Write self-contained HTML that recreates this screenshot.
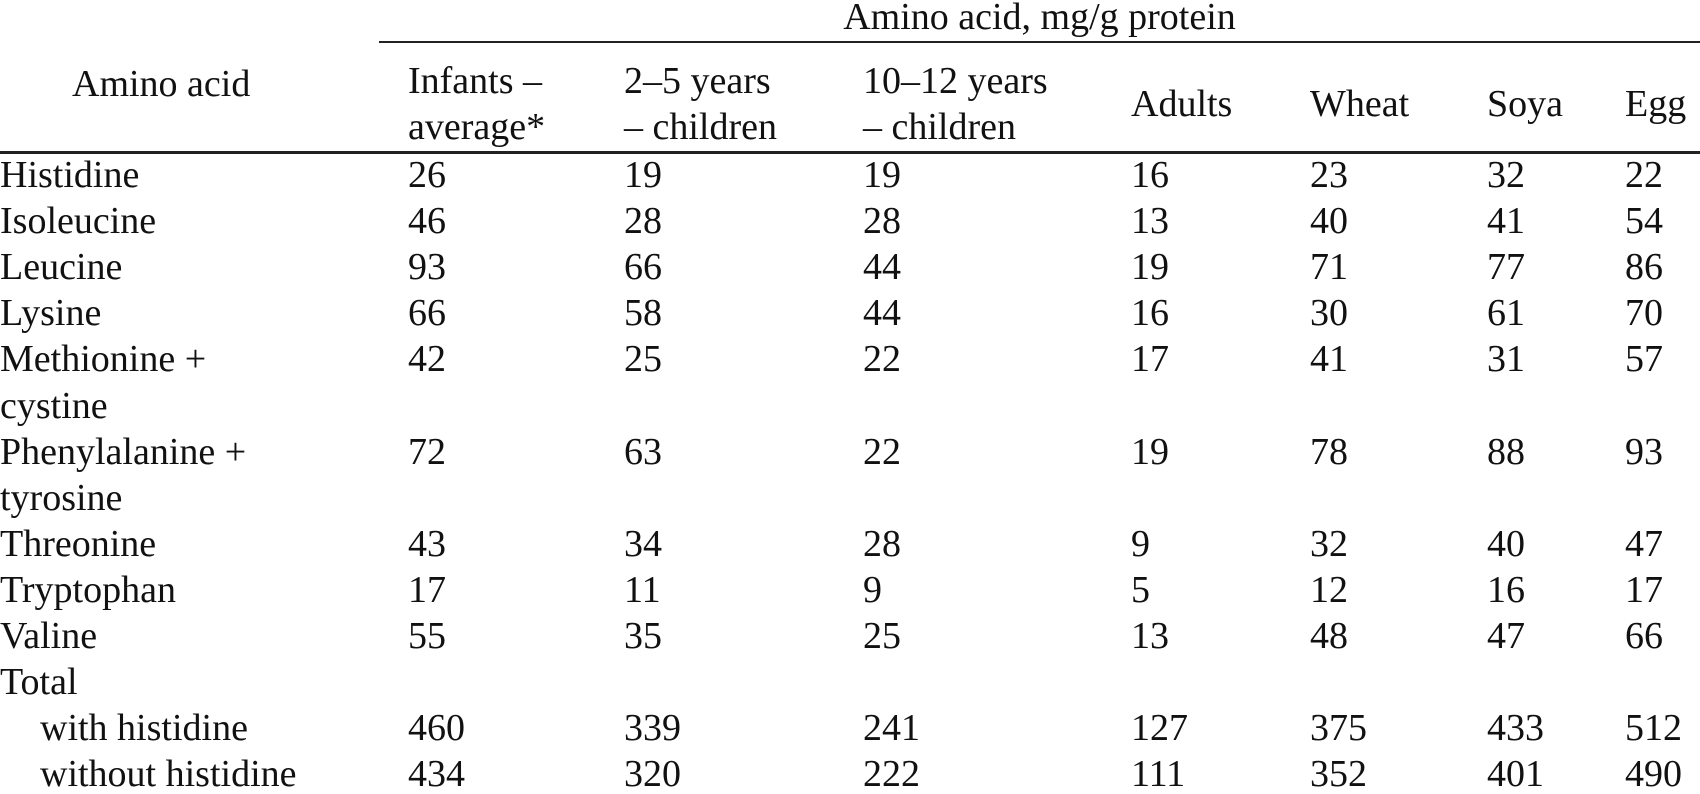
<!DOCTYPE html>
<html><head><meta charset="utf-8"><style>
html,body{margin:0;padding:0;background:#fff;}
#t{position:relative;width:1700px;height:794px;overflow:hidden;font-family:"Liberation Serif",serif;font-size:38px;color:#111;}
.c{position:absolute;white-space:nowrap;height:46px;line-height:46px;}
.r{position:absolute;background:#222;}
</style></head><body>
<div id="t">
<div class="c" style="left:379px;width:1321px;text-align:center;top:-6px;">Amino acid, mg/g protein</div>
<div class="r" style="left:379px;width:1321px;top:41px;height:2px;"></div>
<div class="c" style="left:72px;top:61px;">Amino acid</div>
<div class="r" style="left:0;width:1700px;top:151px;height:3px;"></div>
</div>
<script>
const columns=["Infants –|average*","2–5 years|– children","10–12 years|– children","Adults","Wheat","Soya","Egg"];
const rowLabels=["Histidine","Isoleucine","Leucine","Lysine","Methionine +|cystine","Phenylalanine +|tyrosine","Threonine","Tryptophan","Valine","Total","  with histidine","  without histidine"];
const infants=[26,46,93,66,42,72,43,17,55,null,460,434];
const kids25=[19,28,66,58,25,63,34,11,35,null,339,320];
const kids1012=[19,28,44,44,22,22,28,9,25,null,241,222];
const adults=[16,13,19,16,17,19,9,5,13,null,127,111];
const wheat=[23,40,71,30,41,78,32,12,48,null,375,352];
const soya=[32,41,77,61,31,88,40,16,47,null,433,401];
const egg=[22,54,86,70,57,93,47,17,66,null,512,490];
const series=[infants,kids25,kids1012,adults,wheat,soya,egg];
const colX=[408,624,863,1131,1310,1487,1625];
const t=document.getElementById('t');
function cell(txt,x,cy){const d=document.createElement('div');d.className='c';d.style.left=x+'px';d.style.top=(cy-23)+'px';d.textContent=txt;t.appendChild(d);return d;}
columns.forEach((c,i)=>{const parts=c.split('|');
 if(parts.length==2){const a=cell(parts[0],colX[i],81);


const b=cell(parts[1],colX[i],127);

}
 else{const a=cell(parts[0],colX[i],104);

}});
let y=175;const pitch=46.1;
rowLabels.forEach((lab,r)=>{const parts=lab.split('|');
 const indent=lab.startsWith('  ')?40:0;
 const l=cell(parts[0].trim(),indent,y);


 series.forEach((s,ci)=>{if(s[r]!==null){const v=cell(String(s[r]),colX[ci],y);

}});
 y+=pitch;
 if(parts.length==2){const l2=cell(parts[1],0,y);


 y+=pitch;}
});
</script>
</body></html>
